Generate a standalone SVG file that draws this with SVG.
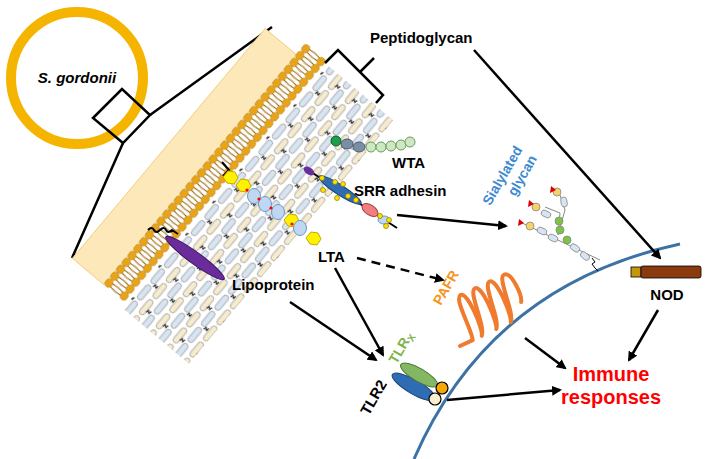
<svg xmlns="http://www.w3.org/2000/svg" width="708" height="459" viewBox="0 0 708 459">
<defs>
<style>
.t{font-family:"Liberation Sans",Arial,sans-serif;font-weight:bold;font-size:15px;fill:#000}
.a{stroke:#000;stroke-width:2.5;fill:none;marker-end:url(#ah)}
.cap1{fill:#F6EBCD;stroke:#9a9a9a;stroke-width:0.8}
.cap2{fill:#D7E5F3;stroke:#9a9a9a;stroke-width:0.8}
.zz{fill:none;stroke:#222;stroke-width:1.3}
</style>
<marker id="ah" markerWidth="10" markerHeight="10" refX="8" refY="5" orient="auto" markerUnits="userSpaceOnUse"><path d="M0,0 L10,5 L0,10 z" fill="#000"/></marker>
<pattern id="bil" width="9" height="28" patternUnits="userSpaceOnUse">
<path d="M3,4 L2,14 M6,4 L7,14 M3,24 L2,14 M6,24 L7,14" stroke="#9C6B12" stroke-width="1.1"/>
<ellipse cx="4.5" cy="4" rx="4.3" ry="3.8" fill="#E8A317" stroke="#B07A10" stroke-width="0.6"/>
<ellipse cx="4.5" cy="24" rx="4.3" ry="3.8" fill="#E8A317" stroke="#B07A10" stroke-width="0.6"/>
</pattern>
<pattern id="pg" width="42" height="22" patternUnits="userSpaceOnUse">
<rect class="cap1" x="1" y="1" width="18" height="6" rx="3"/>
<rect class="cap1" x="22" y="1" width="18" height="6" rx="3"/>
<rect class="cap2" x="11" y="12" width="18" height="6" rx="3"/>
<rect class="cap2" x="32" y="12" width="18" height="6" rx="3"/>
<rect class="cap2" x="-10" y="12" width="18" height="6" rx="3"/>
<path class="zz" d="M6,7 l3,1 l-2,2 l3,1"/>
<path class="zz" d="M30,18 l3,1 l-2,2 l3,1"/>
</pattern>
</defs>
<rect width="708" height="459" fill="#fff"/>
<g id="cell-sgordonii">
<circle cx="77" cy="78" r="66" fill="#fff" stroke="#F5B400" stroke-width="10"/>
<text class="t" x="77" y="83" text-anchor="middle" font-style="italic" font-size="17">S. gordonii</text>
<path d="M93,118 L122,89 L150,115 L123,143 Z" fill="none" stroke="#000" stroke-width="2.5"/>
<path d="M150,115 L272,27 M123,143 L72,258" stroke="#000" stroke-width="2.5" fill="none"/>
</g>
<g id="cell-wall" transform="translate(103,284) rotate(-50)">
<rect x="0" y="-40" width="300" height="41" fill="#FCE8B8" stroke="#F0C870" stroke-width="0.8"/>
<rect x="0" y="0" width="315" height="28" fill="url(#bil)"/>
<rect x="-6" y="31" width="318" height="86" fill="url(#pg)"/>
</g>
<g id="lta">
<path d="M222,162 L229,170 L223,176" fill="none" stroke="#000" stroke-width="2"/>
<polygon points="228,171 235,172 238,178 234,184 227,183 223,177" fill="#FFF200" stroke="#C8A800"/>
<polygon points="241,179 248,180 251,186 247,192 240,191 236,185" fill="#FFF200" stroke="#C8A800"/>
<ellipse cx="254" cy="196" rx="6.5" ry="7.5" fill="#BFD7F2" stroke="#6E98C8"/>
<ellipse cx="265" cy="204" rx="6.5" ry="7.5" fill="#BFD7F2" stroke="#6E98C8"/>
<ellipse cx="278" cy="212" rx="6.5" ry="7.5" fill="#BFD7F2" stroke="#6E98C8"/>
<polygon points="289,214 296,215 299,221 295,227 288,226 284,220" fill="#FFF200" stroke="#C8A800"/>
<ellipse cx="300" cy="228" rx="6.5" ry="7.5" fill="#BFD7F2" stroke="#6E98C8"/>
<polygon points="311,232 318,233 321,239 317,245 310,244 306,238" fill="#FFF200" stroke="#C8A800"/>
<circle cx="247" cy="190" r="1.6" fill="#f00"/><circle cx="259" cy="199" r="1.6" fill="#f00"/><circle cx="271" cy="208" r="1.6" fill="#f00"/><circle cx="292" cy="224" r="1.6" fill="#f00"/>
</g>
<g id="lipoprotein">
<path d="M148,230 q4,-4 6,0 q2,4 6,0 q4,-4 6,0 q2,4 6,0 l6,4" fill="none" stroke="#000" stroke-width="2"/>
<ellipse cx="195" cy="258" rx="36" ry="6" transform="rotate(36 195 258)" fill="#6A2C9A" stroke="#3E1660"/>
<text class="t" x="232" y="290">Lipoprotein</text>
</g>
<g id="wta">
<circle cx="336" cy="141" r="5" fill="#1E9E4A" stroke="#0d5a28"/>
<ellipse cx="347" cy="144" rx="6" ry="5" fill="#7A8FA6" stroke="#4a5a6e"/>
<ellipse cx="359" cy="147" rx="6" ry="5" fill="#7A8FA6" stroke="#4a5a6e"/>
<circle cx="371" cy="147" r="5" fill="#CFE8C4" stroke="#6a9a5a"/>
<circle cx="381" cy="147" r="5" fill="#CFE8C4" stroke="#6a9a5a"/>
<circle cx="391" cy="146" r="5" fill="#CFE8C4" stroke="#6a9a5a"/>
<circle cx="401" cy="145" r="5" fill="#CFE8C4" stroke="#6a9a5a"/>
<circle cx="410" cy="142" r="5" fill="#CFE8C4" stroke="#6a9a5a"/>
<text class="t" x="392" y="168">WTA</text>
</g>
<g id="srr-adhesin">
<path d="M305,168 L397,228" stroke="#000" stroke-width="2"/>
<ellipse cx="309" cy="171" rx="6" ry="3.5" transform="rotate(33 309 171)" fill="#6A2C9A"/>
<ellipse cx="340" cy="190" rx="25" ry="5" transform="rotate(33 340 190)" fill="#2E6DB4" stroke="#1a3e70"/>
<ellipse cx="370" cy="210" rx="9" ry="5" transform="rotate(33 370 210)" fill="#F08080" stroke="#a04040"/>
<ellipse cx="384" cy="220" rx="6" ry="4" fill="#BFD7F2" stroke="#6E98C8"/>
<g fill="#FFE000" stroke="#8a7a00" stroke-width="0.7">
<circle cx="322" cy="178" r="2.5"/><circle cx="335" cy="182" r="2.5"/><circle cx="323" cy="190" r="2.5"/><circle cx="343" cy="184" r="2.5"/><circle cx="348" cy="196" r="2.5"/><circle cx="337" cy="198" r="2.5"/><circle cx="356" cy="200" r="2.5"/><circle cx="380" cy="216" r="2.5"/><circle cx="389" cy="220" r="2.5"/><circle cx="386" cy="226" r="2.5"/>
</g>
<text class="t" x="354" y="196">SRR adhesin</text>
</g>
<g id="peptidoglycan">
<path d="M325,63 L338,50 L383,95 L376,103 M360,72 L374,58" fill="none" stroke="#000" stroke-width="2.5"/>
<text class="t" x="370" y="43" font-size="16">Peptidoglycan</text>
</g>
<g id="membrane">
<path d="M414,459 Q490,285 680,244" fill="none" stroke="#3D72A4" stroke-width="3"/>
</g>
<g id="sialylated-glycan">
<text x="510" y="180" transform="rotate(-60 510 180)" text-anchor="middle" font-family="Liberation Sans,Arial,sans-serif" font-weight="bold" font-size="14" fill="#3C8AD0"><tspan x="510" dy="-4">Sialylated</tspan><tspan x="520" dy="17">glycan</tspan></text>
<path d="M520,222 L600,260 M558,235 L560,213 M560,213 L545,207 M558,235 L565,210 L560,195" stroke="#888" stroke-width="1" fill="none"/>
<g stroke="#888" stroke-width="0.8">
<rect x="537" y="228" width="10" height="6" rx="3" fill="#D7E5F3" transform="rotate(25 542 231)"/>
<rect x="548" y="235" width="10" height="6" rx="3" fill="#D7E5F3" transform="rotate(25 553 238)"/>
<rect x="570" y="245" width="10" height="6" rx="3" fill="#D7E5F3" transform="rotate(35 575 248)"/>
<rect x="580" y="253" width="10" height="6" rx="3" fill="#D7E5F3" transform="rotate(40 585 256)"/>
<rect x="541" y="211" width="10" height="6" rx="3" fill="#D7E5F3" transform="rotate(25 546 214)"/>
<rect x="559" y="199" width="10" height="6" rx="3" fill="#D7E5F3" transform="rotate(80 564 202)"/>
<circle cx="530" cy="226" r="4" fill="#F5D36A"/>
<circle cx="560" cy="230" r="4" fill="#7CC443"/><circle cx="559" cy="221" r="4" fill="#7CC443"/><circle cx="567" cy="240" r="4" fill="#7CC443"/>
<circle cx="536" cy="207" r="4" fill="#F5D36A"/><circle cx="557" cy="192" r="4" fill="#F5D36A"/>
</g>
<polygon points="519,219 524,223 518,226" fill="#D00"/>
<polygon points="529,200 534,204 528,207" fill="#D00"/>
<polygon points="551,186 556,190 550,193" fill="#D00"/>
<path d="M592,258 l3,4 l-3,2 l3,4 l3,3" fill="none" stroke="#000" stroke-width="1"/>
</g>
<g id="pafr">
<path transform="translate(460,346) rotate(-25)" d="M0,0 L14,0 C18,-10 14,-45 22,-46 C30,-47 28,-5 24,0 C32,-8 30,-46 38,-46 C46,-46 44,-5 40,0 C48,-8 46,-46 54,-46 C62,-46 60,-5 56,0 C64,-8 62,-46 70,-46 C78,-46 78,-20 74,-14" fill="none" stroke="#F07B2E" stroke-width="4" stroke-linecap="round" stroke-linejoin="round"/>
<text x="450" y="290" transform="rotate(-60 450 290)" text-anchor="middle" font-family="Liberation Sans,Arial,sans-serif" font-weight="bold" font-size="14" fill="#F7941D">PAFR</text>
</g>
<g id="tlr">
<ellipse cx="414" cy="387" rx="25" ry="7" transform="rotate(30 414 387)" fill="#2E6DB4" stroke="#1a3e70"/>
<ellipse cx="419" cy="375" rx="21" ry="6.5" transform="rotate(30 419 375)" fill="#84B764" stroke="#4a7a30"/>
<circle cx="442" cy="388" r="6" fill="#F5A800" stroke="#000" stroke-width="1.2"/>
<circle cx="435" cy="399" r="6" fill="#FAF0D0" stroke="#000" stroke-width="1.2"/>
<text x="405" y="350" transform="rotate(-60 405 350)" text-anchor="middle" font-family="Liberation Sans,Arial,sans-serif" font-weight="bold" font-size="14" fill="#7DB548">TLR<tspan font-size="10" dy="3">X</tspan></text>
<text class="t" x="378" y="400" transform="rotate(-60 378 400)" text-anchor="middle" font-size="14">TLR2</text>
</g>
<g id="nod">
<rect x="631" y="267" width="10" height="10" fill="#C8960C" stroke="#000" stroke-width="0.8"/>
<rect x="641" y="266" width="60" height="12" rx="2" fill="#8B3A10" stroke="#000" stroke-width="0.8"/>
<text class="t" x="667" y="300" text-anchor="middle">NOD</text>
</g>
<g id="immune-responses" font-family="Liberation Sans,Arial,sans-serif" font-weight="bold" font-size="20" fill="#F00" text-anchor="middle">
<text x="611" y="381">Immune</text>
<text x="611" y="404">responses</text>
</g>
<g id="connectors">
<text class="t" x="318" y="262">LTA</text>
<path class="a" d="M474,50 L660,258"/>
<path class="a" d="M397,215 L506,226"/>
<path class="a" d="M357,258 L443,280" stroke-dasharray="9,6"/>
<path class="a" d="M335,268 L383,355"/>
<path class="a" d="M290,302 L376,360"/>
<path class="a" d="M525,338 L565,368"/>
<path class="a" d="M658,310 L629,360"/>
<path class="a" d="M447,400 L560,390"/>
</g>
</svg>
